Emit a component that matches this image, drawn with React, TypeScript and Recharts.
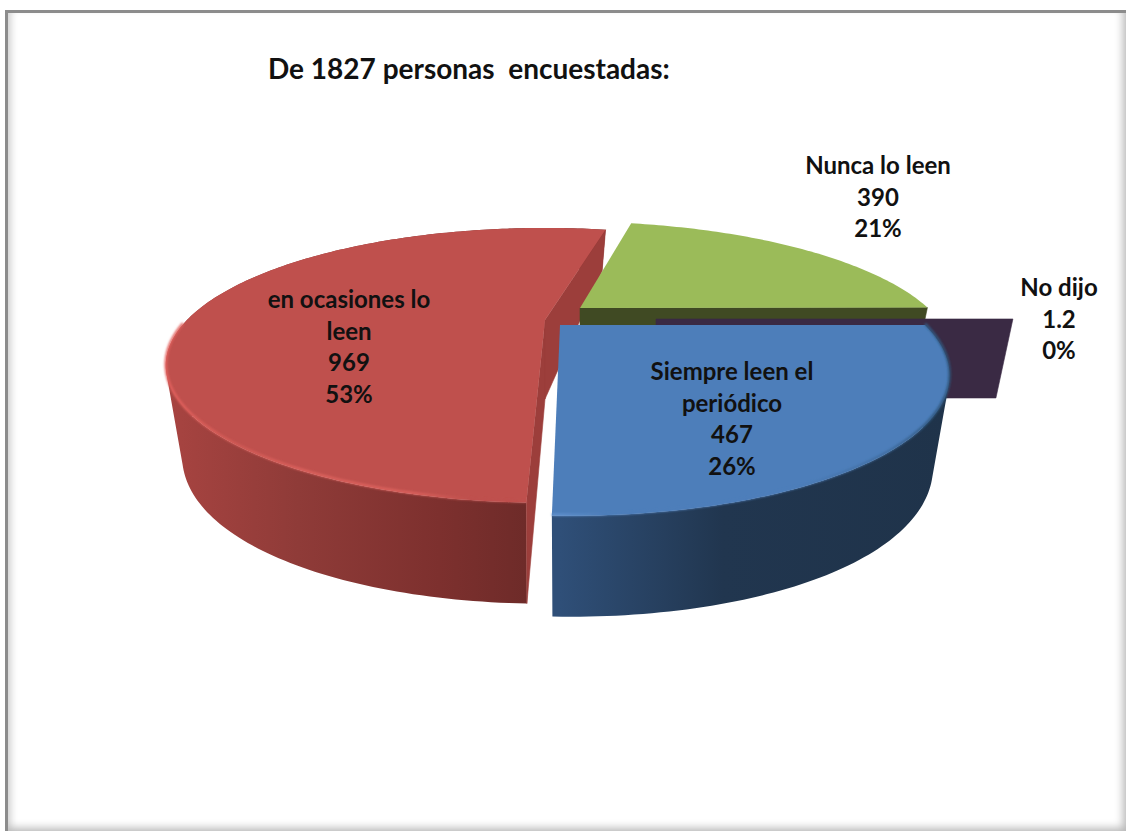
import React from "react";
import { PieChart, Pie } from "recharts";

const categories = ["en ocasiones lo leen", "Nunca lo leen", "No dijo", "Siempre leen el periódico"];
const counts = [969, 390, 1.2, 467];
const nameLines = [["en ocasiones lo", "leen"], ["Nunca lo leen"], ["No dijo"], ["Siempre leen el", "periódico"]];
const title = "De 1827 personas  encuestadas:";
const rows = categories.map((name, i) => ({ name, value: counts[i] }));

const FONT = "Lato, 'Open Sans', sans-serif";
const P = 0.33;
const P_LOW = 0.36;
const Q = 0.05;
const depth = (v: number) => 79 - 30.5 * v - 8.5 * v * v;

type Stop = [number, string];
type Look = {
  top: string; cut: string; wallStops: Stop[]; rimStops: Stop[];
  dx: number; dy: number; rs: number; tilt: number; skew: number; cuts: ("start" | "end")[];
  lx: number; ly: number; wall: boolean; face: boolean; rimEnd: number | null; gradFromApex: boolean;
};
const looks: Look[] = [
  {
    top: "#bf504d", cut: "#9c3e3b",
    wallStops: [[0, "#a84441"], [0.35, "#8f3b38"], [0.72, "#7d302e"], [1, "#6b2a28"]],
    rimStops: [[0, "#e4625e"], [0.2, "#d25b56"], [0.35, "#dc625d"], [0.65, "#dc625d"], [0.8, "#bf504d"], [1, "#bf504d"]],
    dx: 0, dy: 0, rs: 1, tilt: 0.342, skew: 0, cuts: ["start", "end"], lx: -196, ly: -12, wall: true, face: true, rimEnd: -178, gradFromApex: false,
  },
  {
    top: "#9bbb59", cut: "#404a23", wallStops: [], rimStops: [],
    dx: 35, dy: -12, rs: 0.972, tilt: 0.33, skew: 0.09, cuts: ["end"], lx: 298, ly: -134, wall: false, face: true, rimEnd: null, gradFromApex: false,
  },
  {
    top: "#3a2a44", cut: "#3a2a44", wallStops: [], rimStops: [],
    dx: 111, dy: -1, rs: 0.997, tilt: 0.342, skew: 0, cuts: ["end"], lx: 403, ly: -23, wall: false, face: false, rimEnd: null, gradFromApex: false,
  },
  {
    top: "#4d7eba", cut: "#2f4f78",
    wallStops: [[0, "#2f4f78"], [0.42, "#21364f"], [1, "#1f334a"]],
    rimStops: [[0, "#5f90cc"], [0.12, "#4d7eba"], [0.6, "#4d7eba"], [0.85, "#3f6c9f"], [1, "#2e5378"]],
    dx: 15, dy: 5, rs: 1.02, tilt: 0.35, skew: 0.057, cuts: [], lx: 172, ly: 55, wall: true, face: true, rimEnd: null, gradFromApex: true,
  },
];

function project(cx: number, cy: number, R: number, k: Look, a: number, r: number, low: boolean) {
  const rad = (a * Math.PI) / 180;
  const u = r * Math.cos(rad);
  const v = r * Math.sin(rad);
  const w = 1 + P * v;
  const yTop = (-R * k.tilt * v) / w;
  const x = low ? (R * u) / (1 + Q + P_LOW * v) : (R * u) / w;
  const y = low ? yTop + depth(v) : yTop;
  return [cx + k.dx + x + k.skew * yTop, cy + k.dy + y] as const;
}

function arc(cx: number, cy: number, R: number, k: Look, a0: number, a1: number, low: boolean) {
  const n = Math.max(2, Math.ceil(Math.abs(a1 - a0)));
  const pts: string[] = [];
  for (let i = 0; i <= n; i++) {
    const p = project(cx, cy, R, k, a0 + ((a1 - a0) * i) / n, 1, low);
    pts.push(`${p[0].toFixed(2)} ${p[1].toFixed(2)}`);
  }
  return pts;
}

function sweptWall(cx: number, cy: number, R: number, k: Look, a0: number, a1: number) {
  const n = Math.max(2, Math.ceil(Math.abs(a1 - a0)));
  let d = "";
  for (let i = 0; i < n; i++) {
    const a = a0 + ((a1 - a0) * i) / n;
    const b = a0 + ((a1 - a0) * (i + 1)) / n;
    const q = [
      project(cx, cy, R, k, a, 1, false),
      project(cx, cy, R, k, b, 1, false),
      project(cx, cy, R, k, b, 1, true),
      project(cx, cy, R, k, a, 1, true),
    ];
    let area = 0;
    q.forEach((p, j) => {
      const o = q[(j + 1) % 4];
      area += p[0] * o[1] - o[0] * p[1];
    });
    const ordered = area < 0 ? [...q].reverse() : q;
    d += `M${ordered.map((p) => `${p[0].toFixed(2)} ${p[1].toFixed(2)}`).join("L")}Z`;
  }
  return d;
}

function Slice(props: any) {
  const { cx, cy, outerRadius, startAngle, endAngle, name } = props;
  const i = categories.indexOf(name ?? props.payload?.name);
  const k = looks[i];
  const R = outerRadius * k.rs;
  const topArc = arc(cx, cy, R, k, startAngle, endAngle, false);
  const apex = project(cx, cy, R, k, 0, 0, false);
  const apexLow = project(cx, cy, R, k, 0, 0, true);
  const quad = (a: number) => {
    const t = project(cx, cy, R, k, a, 1, false);
    const b = project(cx, cy, R, k, a, 1, true);
    return `M${apex[0]} ${apex[1]}L${t[0]} ${t[1]}L${b[0]} ${b[1]}L${apexLow[0]} ${apexLow[1]}Z`;
  };
  const gx0 = k.gradFromApex ? cx + k.dx : cx + k.dx - R * 1.06;
  const gx1 = k.gradFromApex ? cx + k.dx + R * 1.06 : cx + k.dx;
  const rimStop = k.rimEnd ?? endAngle;
  return (
    <g>
      <defs>
        <linearGradient id={`wall${i}`} gradientUnits="userSpaceOnUse" x1={gx0} x2={gx1} y1="0" y2="0">
          {k.wallStops.map(([o, c]) => <stop key={o} offset={o} stopColor={c} />)}
        </linearGradient>
        <linearGradient id={`rim${i}`} gradientUnits="userSpaceOnUse" x1={gx0} x2={gx1} y1="0" y2="0">
          {k.rimStops.map(([o, c]) => <stop key={o} offset={o} stopColor={c} />)}
        </linearGradient>
        <filter id={`soft${i}`} x="-5%" y="-5%" width="110%" height="110%">
          <feGaussianBlur stdDeviation="0.8" />
        </filter>
      </defs>
      {k.wall && <path d={sweptWall(cx, cy, R, k, startAngle, endAngle)} fill={`url(#wall${i})`} fillRule="nonzero" />}
      {k.cuts.map((c) => (
        <path key={c} d={quad(c === "start" ? startAngle : endAngle)} fill={k.cut} stroke={k.cut} strokeWidth={0.6} strokeLinejoin="round" />
      ))}
      {k.face && <path d={`M${apex[0]} ${apex[1]}L${topArc.join("L")}Z`} fill={k.top} />}
      {k.wall && (
        <path
          d={`M${arc(cx, cy, R, k, startAngle, rimStop, false).join("L")}`}
          transform="translate(0,-1)"
          fill="none"
          stroke={`url(#rim${i})`}
          strokeWidth={2.5}
          filter={`url(#soft${i})`}
        />
      )}
    </g>
  );
}

function SliceLabel(props: any) {
  const { cx, cy, index, value, percent } = props;
  const k = looks[index];
  const lines = [...nameLines[index], String(value), `${Math.round(percent * 100)}%`];
  const x = cx + k.dx + k.lx;
  const y = cy + k.dy + k.ly;
  return (
    <text textAnchor="middle" fontFamily={FONT} fontWeight={700} fontSize={24} fill="#111">
      {lines.map((l, n) => (
        <tspan key={n} x={x} y={y + n * 31.5}>{l}</tspan>
      ))}
    </text>
  );
}

export default function App() {
  return (
    <div style={{ position: "absolute", left: 0, top: 0, width: 1126, height: 831, background: "#fff", overflow: "hidden" }}>
      <div
        style={{
          position: "absolute", left: 5, top: 10, width: 1121, height: 821, boxSizing: "border-box",
          borderTop: "3px solid #8c8c8c", borderLeft: "3px solid #8c8c8c",
          boxShadow: "inset -8px -8px 8px -5px #b8b8b8, inset 7px 0 7px -4px #d0d0d0",
        }}
      />
      <div style={{ position: "absolute", left: 0, top: 0 }}>
        <PieChart width={1126} height={831} margin={{ top: 0, right: 0, bottom: 0, left: 0 }}>
          <text x={268} y={79} fontFamily={FONT} fontWeight={700} fontSize={28} fill="#111" style={{ whiteSpace: "pre" }}>{title}</text>
          <Pie
            data={rows}
            dataKey="value"
            nameKey="name"
            cx={545}
            cy={320}
            innerRadius={0}
            outerRadius={358}
            startAngle={-92}
            endAngle={-452}
            stroke="none"
            isAnimationActive={false}
            shape={Slice}
            label={SliceLabel}
            labelLine={false}
          />
        </PieChart>
      </div>
    </div>
  );
}
